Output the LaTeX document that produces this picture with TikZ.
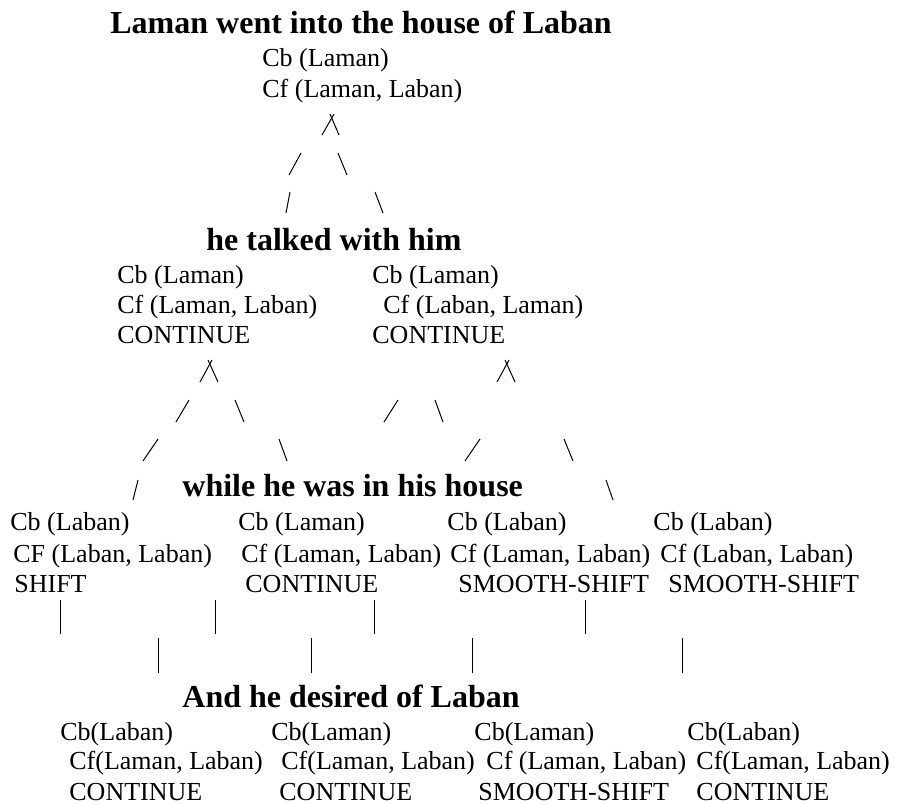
\documentclass[tikz,border=0pt]{standalone}
\usepackage{fontspec}
\setmainfont{Liberation Serif}
\begin{document}
\begin{tikzpicture}[x=0.5pt,y=-0.5pt,
    txt/.style={anchor=base west,inner sep=0pt,font=\fontsize{13}{15}\selectfont},
    hd/.style={anchor=base west,inner sep=0pt,font=\fontsize{16}{19}\selectfont\bfseries},
    tick/.style={line width=0.5pt}]
                \useasboundingbox (0,0) rectangle (898,804);
                % first utterance
                \node[hd]  (u1)    at (110,33)  {Laman went into the house of Laban};
                \node[txt] (u1cb)  at (262,66)  {Cb (Laman)};
                \node[txt] (u1cf)  at (262,97)  {Cf (Laman, Laban)};
                \draw[tick] (322,135) -- (334,114);
                \draw[tick] (330,114) -- (339,135);
                \draw[tick] (289,175) -- (301,153);
                \draw[tick] (338,153) -- (347,175);
                \draw[tick] (286,213) -- (290,192);
                \draw[tick] (375,192) -- (383,213);
                % second utterance
                \node[hd]  (u2)    at (206,250) {he talked with him};
                \node[txt] (u2acb) at (117,283) {Cb (Laman)};
                \node[txt] (u2acf) at (117,313) {Cf (Laman, Laban)};
                \node[txt] (u2atr) at (117,343) {CONTINUE};
                \node[txt] (u2bcb) at (372,283) {Cb (Laman)};
                \node[txt] (u2bcf) at (383,313) {Cf (Laban, Laman)};
                \node[txt] (u2btr) at (372,343) {CONTINUE};
                \draw[tick] (200,382) -- (212,360);
                \draw[tick] (208,360) -- (218,382);
                \draw[tick] (497,382) -- (509,360);
                \draw[tick] (505,360) -- (515,382);
                \draw[tick] (176,422) -- (189,400);
                \draw[tick] (235,400) -- (244,422);
                \draw[tick] (384,422) -- (398,400);
                \draw[tick] (435,400) -- (443,422);
                \draw[tick] (143,461) -- (158,439);
                \draw[tick] (279,439) -- (287,461);
                \draw[tick] (465,461) -- (480,439);
                \draw[tick] (564,439) -- (573,461);
                \draw[tick] (133,500) -- (138,480);
                \draw[tick] (606,480) -- (613,500);
                % third utterance
                \node[hd]  (u3)    at (182,496) {while he was in his house};
                \node[txt] (u3acb) at (10,530)  {Cb (Laban)};
                \node[txt] (u3acf) at (13,562)  {CF (Laban, Laban)};
                \node[txt] (u3atr) at (14,592)  {SHIFT};
                \node[txt] (u3bcb) at (238,530) {Cb (Laman)};
                \node[txt] (u3bcf) at (241,562) {Cf (Laman, Laban)};
                \node[txt] (u3btr) at (245,592) {CONTINUE};
                \node[txt] (u3ccb) at (447,530) {Cb (Laban)};
                \node[txt] (u3ccf) at (450,562) {Cf (Laman, Laban)};
                \node[txt] (u3ctr) at (458,592) {SMOOTH-SHIFT};
                \node[txt] (u3dcb) at (653,530) {Cb (Laban)};
                \node[txt] (u3dcf) at (660,562) {Cf (Laban, Laban)};
                \node[txt] (u3dtr) at (668,592) {SMOOTH-SHIFT};
                \draw[tick] (60,600) -- (60,634);
                \draw[tick] (215,600) -- (215,634);
                \draw[tick] (374,600) -- (374,634);
                \draw[tick] (585,600) -- (585,634);
                \draw[tick] (158,638) -- (158,673);
                \draw[tick] (311,638) -- (311,673);
                \draw[tick] (472,638) -- (472,673);
                \draw[tick] (682,638) -- (682,673);
                % fourth utterance
                \node[hd]  (u4)    at (182,707) {And he desired of Laban};
                \node[txt] (u4acb) at (60,740)  {Cb(Laban)};
                \node[txt] (u4acf) at (69,769)  {Cf(Laman, Laban)};
                \node[txt] (u4atr) at (69,800)  {CONTINUE};
                \node[txt] (u4bcb) at (271,740) {Cb(Laman)};
                \node[txt] (u4bcf) at (281,769) {Cf(Laman, Laban)};
                \node[txt] (u4btr) at (279,800) {CONTINUE};
                \node[txt] (u4ccb) at (474,740) {Cb(Laman)};
                \node[txt] (u4ccf) at (486,769) {Cf (Laman, Laban)};
                \node[txt] (u4ctr) at (478,800) {SMOOTH-SHIFT};
                \node[txt] (u4dcb) at (687,740) {Cb(Laban)};
                \node[txt] (u4dcf) at (696,769) {Cf(Laman, Laban)};
                \node[txt] (u4dtr) at (696,800) {CONTINUE};
\end{tikzpicture}
\end{document}
